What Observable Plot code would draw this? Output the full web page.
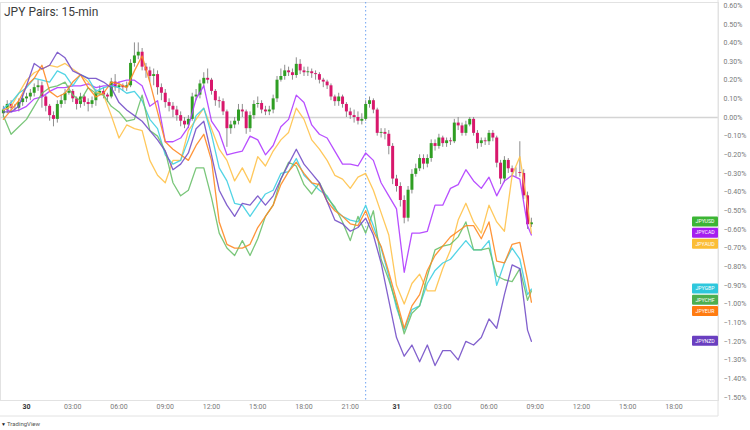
<!DOCTYPE html>
<html><head><meta charset="utf-8">
<script src="https://cdn.jsdelivr.net/npm/d3@7"></script>
<script src="https://cdn.jsdelivr.net/npm/@observablehq/plot@0.6"></script>
<style>
body{margin:0;background:#fff;}
#wrap{position:relative;width:750px;height:430px;overflow:hidden;}
#title{position:absolute;left:4px;top:5px;font:400 12px Roboto, "Open Sans", sans-serif;color:#3c3c3c;}
</style></head>
<body><div id="wrap"><div id="title">JPY Pairs: 15-min</div></div>
<script>
// ---------- DATA ----------
// x-axis ticks (hours from 30th 00:00) and their labels
const xTicks = [0,3,6,9,12,15,18,21,24,27,30,33,36,39,42];
const xTickLabels = ["30","03:00","06:00","09:00","12:00","15:00","18:00","21:00","31","03:00","06:00","09:00","12:00","15:00","18:00"];
const yTicks = [0.6,0.5,0.4,0.3,0.2,0.1,0,-0.1,-0.2,-0.3,-0.4,-0.5,-0.6,-0.7,-0.8,-0.9,-1.0,-1.1,-1.2,-1.3,-1.4,-1.5];
const sessionBreak = [22];

// JPYUSD 15-min candles (% change), first bar at 29th 22:30
const candleClose = [0.04,0.07,0.05,0.05,0.08,0.10,0.11,0.13,0.16,0.17,
0.11,0.06,0.01,-0.01,0.07,0.09,0.13,0.14,0.10,0.07,
0.11,0.08,0.07,0.09,0.13,0.14,0.12,0.11,0.19,0.16,
0.17,0.16,0.17,0.29,0.33,0.35,0.27,0.25,0.22,0.23,
0.16,0.13,0.08,0.06,0.04,0.01,-0.02,-0.04,-0.01,0.11,
0.12,0.18,0.21,0.20,0.14,0.09,0.085,0.03,-0.06,-0.04,
-0.02,0.04,0.03,-0.06,0.01,0.07,0.075,0.04,0.03,0.04,
0.10,0.20,0.22,0.25,0.24,0.225,0.285,0.25,0.24,0.245,
0.235,0.23,0.20,0.19,0.17,0.11,0.085,0.11,0.07,0.03,
0.01,0.00,-0.02,-0.01,0.07,0.09,0.04,-0.085,-0.08,-0.09,
-0.155,-0.33,-0.37,-0.445,-0.54,-0.39,-0.305,-0.275,-0.22,-0.25,
-0.22,-0.14,-0.155,-0.11,-0.14,-0.125,-0.13,-0.03,-0.045,-0.085,
-0.04,-0.01,-0.085,-0.14,-0.125,-0.13,-0.085,-0.11,-0.245,-0.33,
-0.23,-0.275,-0.295,-0.295,-0.30,-0.42,-0.575,-0.565];
const candleHigh = [0.06,0.09,0.09,0.07,0.10,0.12,0.13,0.15,0.18,0.20,
0.19,0.12,0.07,0.03,0.09,0.12,0.15,0.17,0.15,0.11,
0.13,0.12,0.10,0.11,0.15,0.17,0.16,0.13,0.21,0.23,
0.19,0.18,0.19,0.31,0.40,0.40,0.37,0.29,0.27,0.26,
0.25,0.18,0.15,0.10,0.08,0.06,0.03,0.00,0.01,0.13,
0.15,0.20,0.24,0.26,0.21,0.15,0.11,0.10,0.04,-0.02,
0.00,0.07,0.07,0.04,0.03,0.09,0.11,0.09,0.06,0.06,
0.12,0.22,0.26,0.28,0.27,0.26,0.32,0.31,0.27,0.27,
0.26,0.25,0.24,0.21,0.20,0.18,0.12,0.13,0.12,0.08,
0.05,0.04,0.03,0.02,0.09,0.11,0.10,0.05,-0.06,-0.06,
-0.07,-0.14,-0.31,-0.35,-0.42,-0.37,-0.28,-0.25,-0.20,-0.20,
-0.20,-0.12,-0.12,-0.09,-0.10,-0.11,-0.11,-0.01,0.00,-0.03,
-0.02,0.00,0.00,-0.07,-0.11,-0.11,-0.07,-0.07,-0.10,-0.23,
-0.21,-0.22,-0.26,-0.27,-0.13,-0.28,-0.40,-0.54];
const candleLow = [0.00,0.02,0.03,0.03,0.03,0.06,0.08,0.09,0.11,0.14,
0.05,0.03,-0.02,-0.05,-0.03,0.05,0.07,0.12,0.08,0.04,
0.05,0.06,0.03,0.05,0.06,0.12,0.10,0.08,0.10,0.14,
0.13,0.14,0.14,0.16,0.27,0.31,0.25,0.21,0.19,0.17,
0.12,0.09,0.05,0.03,0.00,-0.02,-0.05,-0.06,-0.06,-0.02,
0.09,0.10,0.16,0.18,0.12,0.06,0.05,0.01,-0.16,-0.09,
-0.06,-0.04,0.00,-0.09,-0.08,-0.01,0.05,0.02,0.01,0.01,
0.02,0.08,0.19,0.20,0.22,0.20,0.21,0.23,0.22,0.22,
0.21,0.20,0.18,0.16,0.15,0.09,0.06,0.06,0.05,0.00,
-0.01,-0.03,-0.04,-0.04,-0.02,0.05,0.02,-0.10,-0.11,-0.12,
-0.20,-0.36,-0.40,-0.48,-0.57,-0.56,-0.41,-0.32,-0.29,-0.28,
-0.27,-0.24,-0.18,-0.17,-0.16,-0.16,-0.15,-0.14,-0.07,-0.10,
-0.10,-0.05,-0.10,-0.17,-0.16,-0.15,-0.15,-0.13,-0.27,-0.36,
-0.35,-0.30,-0.32,-0.32,-0.32,-0.44,-0.60,-0.59];
const firstOpen = 0.02;

// comparison lines (% change), sampled every 30 min from 29th 22:30, last point 31st 08:45
const JPYCAD = [0.05,0.03,0.04,0.06,0.10,0.11,0.14,0.16,0.16,0.17,
0.17,0.18,0.16,0.17,0.17,0.19,0.20,0.20,0.17,0.06,
0.09,-0.13,-0.13,-0.11,-0.05,0.10,0.17,-0.02,-0.08,-0.20,
-0.19,-0.18,-0.10,-0.12,-0.20,-0.15,-0.05,-0.01,0.12,0.08,
-0.04,-0.09,-0.11,-0.18,-0.25,-0.25,-0.26,-0.19,-0.23,-0.35,
-0.42,-0.49,-0.83,-0.62,-0.62,-0.61,-0.47,-0.47,-0.38,-0.36,
-0.28,-0.34,-0.38,-0.32,-0.42,-0.34,-0.31,-0.33,-0.58,-0.63];
const JPYAUD = [0.04,0.06,0.13,0.20,0.24,0.26,0.28,0.27,0.29,0.26,
0.23,0.19,0.14,0.12,0.01,-0.11,-0.04,-0.06,-0.07,-0.23,
-0.31,-0.35,-0.23,-0.23,-0.07,-0.01,0.05,-0.06,-0.17,-0.23,
-0.34,-0.27,-0.35,-0.21,-0.26,-0.18,-0.12,-0.08,0.05,-0.01,
-0.12,-0.17,-0.23,-0.31,-0.33,-0.38,-0.32,-0.30,-0.39,-0.51,
-0.63,-0.90,-1.00,-0.89,-0.84,-0.93,-0.93,-0.81,-0.71,-0.55,
-0.46,-0.56,-0.62,-0.47,-0.56,-0.61,-0.31,-0.21,-0.47,-0.62];
const JPYGBP = [0.05,0.08,0.13,0.16,0.21,0.20,0.19,0.25,0.23,0.17,
0.23,0.21,0.14,0.16,0.17,0.16,0.13,0.14,0.09,-0.01,
-0.06,-0.20,-0.25,-0.23,-0.12,0.01,0.05,-0.09,-0.27,-0.34,
-0.46,-0.47,-0.53,-0.47,-0.41,-0.39,-0.30,-0.29,-0.22,-0.31,
-0.35,-0.39,-0.42,-0.49,-0.53,-0.55,-0.56,-0.47,-0.58,-0.70,
-0.85,-1.02,-1.14,-1.03,-1.01,-0.89,-0.82,-0.78,-0.76,-0.71,
-0.66,-0.71,-0.71,-0.66,-0.90,-0.78,-0.70,-0.76,-0.95,-0.92];
const JPYCHF = [0.01,-0.09,-0.05,-0.01,0.06,0.13,0.16,0.17,0.19,0.12,
0.09,0.16,0.13,0.12,0.06,0.03,-0.02,-0.01,0.12,-0.07,
-0.10,-0.18,-0.35,-0.42,-0.39,-0.27,-0.27,-0.43,-0.62,-0.70,
-0.74,-0.66,-0.74,-0.65,-0.53,-0.47,-0.33,-0.24,-0.26,-0.36,
-0.41,-0.35,-0.43,-0.48,-0.56,-0.66,-0.53,-0.62,-0.50,-0.76,
-0.87,-1.00,-1.16,-1.05,-1.01,-0.85,-0.71,-0.69,-0.68,-0.64,
-0.56,-0.71,-0.71,-0.70,-0.85,-0.87,-0.88,-0.81,-0.98,-0.93];
const JPYEUR = [-0.01,0.04,0.09,0.17,0.21,0.28,0.14,0.11,0.13,0.19,
0.23,0.16,0.11,0.13,0.19,0.18,0.16,0.25,0.33,0.19,
0.03,-0.13,-0.17,-0.20,-0.23,-0.15,-0.09,-0.23,-0.56,-0.68,
-0.70,-0.70,-0.68,-0.59,-0.53,-0.47,-0.36,-0.29,-0.24,-0.30,
-0.35,-0.36,-0.45,-0.50,-0.53,-0.57,-0.58,-0.50,-0.61,-0.69,
-0.83,-0.98,-1.13,-1.01,-0.95,-0.82,-0.74,-0.69,-0.64,-0.61,
-0.58,-0.58,-0.65,-0.56,-0.77,-0.78,-0.68,-0.67,-0.87,-0.99];
const JPYNZD = [0.03,0.03,0.06,0.17,0.29,0.26,0.28,0.35,0.32,0.25,
0.23,0.21,0.21,0.19,0.16,0.08,0.04,0.01,-0.02,-0.07,
-0.12,-0.18,-0.28,-0.25,-0.19,-0.06,-0.02,-0.20,-0.39,-0.47,
-0.53,-0.46,-0.47,-0.42,-0.47,-0.42,-0.33,-0.25,-0.17,-0.25,
-0.30,-0.35,-0.45,-0.55,-0.57,-0.61,-0.59,-0.54,-0.63,-0.78,
-0.98,-1.18,-1.28,-1.22,-1.31,-1.22,-1.33,-1.25,-1.25,-1.30,
-1.20,-1.22,-1.18,-1.08,-1.13,-0.95,-0.79,-0.81,-1.14,-1.20];

// right-hand tags: name, level (%) where the tag sits, colour
const tagNames = ["JPYUSD","JPYCAD","JPYAUD","JPYGBP","JPYCHF","JPYEUR","JPYNZD"];
const tagLevels = [-0.56,-0.62,-0.68,-0.92,-0.98,-1.04,-1.20];
const tagColors = ["#3cb534","#a51ff0","#fbbd35","#2ec7dc","#4caf50","#ff7b10","#6a3fc0"];

// ---------- BUILD ----------
const candleHours = d3.range(candleClose.length).map(i => -1.5 + 0.25 * i);
const candleOpen = [firstOpen, ...candleClose.slice(0, -1)]; // open = previous close
const candles = candleClose.map((c, i) => ({h: candleHours[i], open: candleOpen[i], close: c, high: candleHigh[i], low: candleLow[i]}));
const lineHours = d3.range(69).map(k => -1.5 + 0.5 * k).concat([32.75]);
const series = [
  {name: "JPYCAD", vals: JPYCAD, color: "#b03cff"},
  {name: "JPYAUD", vals: JPYAUD, color: "#ffc24a"},
  {name: "JPYGBP", vals: JPYGBP, color: "#3fcfe2"},
  {name: "JPYCHF", vals: JPYCHF, color: "#6cc06c"},
  {name: "JPYEUR", vals: JPYEUR, color: "#ff8a24"},
  {name: "JPYNZD", vals: JPYNZD, color: "#7450c8"}
];
const lineMarks = series.map(s => Plot.line(s.vals.map((v, i) => ({h: lineHours[i], v})), {x: "h", y: "v", stroke: s.color, strokeWidth: 1.3, strokeOpacity: 0.9}));

const pxPerHour = 370 / 24;
const chart = Plot.plot({
  width: 750, height: 430,
  marginLeft: 0, marginRight: 32, marginTop: 2, marginBottom: 30,
  style: {fontSize: "7px", fontFamily: "Roboto, 'Open Sans', sans-serif", color: "#7a7a7a", background: "#fff"},
  x: {domain: [-26 / pxPerHour, 692 / pxPerHour], ticks: xTicks, tickFormat: d => xTickLabels[xTicks.indexOf(d)], tickSize: 0, tickPadding: 4, label: null},
  y: {domain: [-283 / 186.5, 115 / 186.5], axis: "right", ticks: yTicks, tickSize: 0, tickPadding: 5, label: null,
      tickFormat: v => (v < -1e-9 ? "\u2212" : "") + Math.abs(v).toFixed(2) + "%"},
  marks: [
    Plot.frame({stroke: "#e2e2e2"}),
    Plot.ruleY([0], {stroke: "#d4d4d4", strokeWidth: 1.5}),
    Plot.ruleX(sessionBreak, {stroke: "#6fa3f2", strokeDasharray: "1.5,2.5", strokeWidth: 1}),
    Plot.ruleX(candles, {x: "h", y1: "low", y2: "high", stroke: "#8d8d8d", strokeWidth: 1}),
    Plot.ruleX(candles.filter(d => d.close >= d.open), {x: "h", y1: "open", y2: "close", stroke: "#2f9e23", strokeWidth: 3}),
    Plot.ruleX(candles.filter(d => d.close < d.open), {x: "h", y1: "open", y2: "close", stroke: "#d8176c", strokeWidth: 3}),
    ...lineMarks
  ]
});
document.getElementById("wrap").appendChild(chart);

const svg = d3.select(chart);
const ys = chart.scale("y"), xs = chart.scale("x");
const xRight = xs.range[1];
// bold day labels
svg.selectAll("text").filter(function(){ const t = this.textContent; return t === "30" || t === "31"; })
   .attr("font-weight", "bold").attr("fill", "#333");
// axis separators
svg.append("line").attr("x1", xRight).attr("x2", xRight).attr("y1", 0).attr("y2", 416).attr("stroke", "#e2e2e2");
svg.append("line").attr("x1", 0).attr("x2", xRight).attr("y1", 416).attr("y2", 416).attr("stroke", "#e2e2e2");
// tags
const tg = svg.append("g");
tagNames.forEach((n, i) => {
  const y = ys.apply(tagLevels[i]);
  tg.append("rect").attr("x", xRight - 26).attr("y", y - 5).attr("width", 26).attr("height", 10).attr("rx", 1).attr("fill", tagColors[i]);
  tg.append("text").attr("x", xRight - 13).attr("y", y).attr("dy", "0.35em").attr("text-anchor", "middle")
    .attr("font-size", 5.2).attr("fill", "#fff").attr("font-family", "Roboto, sans-serif").text(n);
});
// TradingView mark
const lg = svg.append("g").attr("transform", "translate(1,424)").attr("text-anchor", "start");
lg.append("text").attr("text-anchor", "start").attr("dy", "0.35em").attr("font-size", 5).attr("font-weight", "bold").attr("fill", "#131722").text("\u25BC");
lg.append("text").attr("text-anchor", "start").attr("x", 6).attr("dy", "0.35em").attr("font-size", 6).attr("fill", "#555").text("TradingView");
</script>
</body></html>
